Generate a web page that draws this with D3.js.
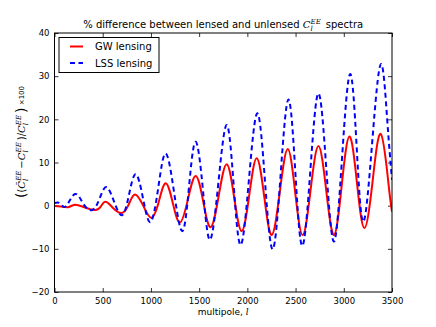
<!DOCTYPE html>
<html>
<head>
<meta charset="utf-8">
<script src="https://cdn.jsdelivr.net/npm/d3@7"></script>
<style>
  body { margin: 0; background: #fff; }
  text { font-family: 'DejaVu Sans', sans-serif; fill: #000; }
  .math { font-family: 'DejaVu Serif', serif; font-style: italic; }
</style>
</head>
<body>
<div id="chart"></div>
<script>
// multipole values and % differences
const gwEll = [0, 100, 150, 213, 300, 420, 480, 531, 610, 700, 770, 835, 920, 1004, 1080, 1153, 1228, 1302,
  1383, 1464, 1542, 1620, 1703, 1786, 1864, 1942, 2020, 2097, 2175, 2253, 2336, 2419, 2496, 2574,
  2655, 2737, 2818, 2899, 2978, 3058, 3136, 3214, 3299, 3384, 3464, 3500]
const gwVal = [-0.1, -0.3, -0.3, 0.2, -0.3, -1.0, -0.2, 0.9, -0.6, -1.7, 0.3, 2.6, 0.0, -2.8, 0.8, 5.2, 0.5, -3.9,
  1.4, 6.9, 1.0, -5.0, 2.3, 9.6, 1.8, -5.9, 2.5, 11.0, 2.1, -6.8, 3.1, 13.1, 3.1, -6.8,
  3.5, 13.8, 3.5, -6.8, 4.6, 16.0, 5.4, -5.2, 5.7, 16.6, 5.0, -1.4]

const lssEll = [0, 60, 120, 213, 300, 392, 465, 538, 620, 703, 772, 842, 917, 995, 1075, 1153, 1240, 1326,
  1395, 1464, 1540, 1613, 1700, 1786, 1858, 1931, 2017, 2104, 2183, 2263, 2345, 2426, 2498, 2570,
  2654, 2737, 2818, 2899, 2982, 3065, 3134, 3203, 3294, 3384, 3450, 3500]
const lssVal = [0.6, 0.5, -0.1, 2.7, 0.4, -1.0, 1.5, 4.3, 0.8, -2.2, 2.5, 7.3, 1.8, -3.8, 4.0, 12.1, 3.1, -5.9,
  4.4, 14.8, 3.5, -7.9, 5.4, 18.7, 4.8, -9.1, 6.2, 21.4, 5.6, -10.1, 7.2, 24.6, 7.6, -9.3,
  8.4, 26.0, 8.8, -8.3, 11.1, 30.5, 13.4, -3.7, 14.5, 32.8, 20.0, 6.0]

const xTicks = [0, 500, 1000, 1500, 2000, 2500, 3000, 3500]
const yTicks = [-20, -10, 0, 10, 20, 30, 40]

const seriesNames = ['GW lensing', 'LSS lensing']

const W = 436
const H = 327
const margin = { top: 33, right: 44, bottom: 35, left: 54.5 }
const width = W - margin.left - margin.right
const height = H - margin.top - margin.bottom

const svg = d3.select('#chart')
  .append('svg')
  .attr('width', W)
  .attr('height', H)

const g = svg.append('g')
  .attr('transform', 'translate(' + margin.left + ',' + margin.top + ')')

const x = d3.scaleLinear().domain([0, 3500]).range([0, width])
const y = d3.scaleLinear().domain([-20, 40]).range([height, 0])

g.append('defs').append('clipPath').attr('id', 'clip')
  .append('rect').attr('width', width).attr('height', height)

const fmt = d => (d < 0 ? '\u2212' + Math.abs(d) : '' + d)

// axes with inward ticks on all four sides
const tickLen = 4
g.append('g')
  .attr('transform', 'translate(0,' + height + ')')
  .call(d3.axisBottom(x).tickValues(xTicks).tickSizeInner(-tickLen).tickSizeOuter(0).tickPadding(6).tickFormat(fmt))
g.append('g')
  .call(d3.axisTop(x).tickValues(xTicks).tickSizeInner(-tickLen).tickSizeOuter(0).tickFormat(''))
g.append('g')
  .call(d3.axisLeft(y).tickValues(yTicks).tickSizeInner(-tickLen).tickSizeOuter(0).tickPadding(5).tickFormat(fmt))
g.append('g')
  .attr('transform', 'translate(' + width + ',0)')
  .call(d3.axisRight(y).tickValues(yTicks).tickSizeInner(-tickLen).tickSizeOuter(0).tickFormat(''))

g.selectAll('.domain').remove()
g.selectAll('.tick line').attr('stroke', '#000').attr('stroke-width', 0.8)
g.selectAll('.tick text').attr('font-size', 8.5).attr('font-family', "'DejaVu Sans', sans-serif").attr('fill', '#000')

const line = d3.line()
  .x(d => x(d[0]))
  .y(d => y(d[1]))
  .curve(d3.curveNatural)

const plot = g.append('g').attr('clip-path', 'url(#clip)')

plot.append('path')
  .datum(gwEll.map((l, i) => [l, gwVal[i]]))
  .attr('d', line)
  .attr('fill', 'none')
  .attr('stroke', '#ff0000')
  .attr('stroke-width', 2)

plot.append('path')
  .datum(lssEll.map((l, i) => [l, lssVal[i]]))
  .attr('d', line)
  .attr('fill', 'none')
  .attr('stroke', '#0000ff')
  .attr('stroke-width', 2)
  .attr('stroke-dasharray', '5,3.5')

g.append('rect')
  .attr('width', width)
  .attr('height', height)
  .attr('fill', 'none')
  .attr('stroke', '#000')
  .attr('stroke-width', 1)

// legend
const legend = g.append('g').attr('transform', 'translate(4.5,4.5)')
legend.append('rect')
  .attr('width', 100)
  .attr('height', 35)
  .attr('fill', '#fff')
  .attr('stroke', '#000')
  .attr('stroke-width', 1)
seriesNames.forEach((name, i) => {
  const ly = 9 + i * 16.5
  legend.append('line')
    .attr('x1', 11).attr('x2', 24)
    .attr('y1', ly).attr('y2', ly)
    .attr('stroke', i === 0 ? '#ff0000' : '#0000ff')
    .attr('stroke-width', 2)
    .attr('stroke-dasharray', i === 0 ? null : '5,3.5')
  legend.append('text')
    .attr('x', 36)
    .attr('y', ly)
    .attr('dy', '0.35em')
    .attr('font-size', 10)
    .text(name)
})

// C with subscript l and superscript EE, stacked like mathtext
function cterm (sel, size, tilde) {
  const s = size * 0.7
  sel.append('tspan').attr('class', 'math').attr('font-size', size).text(tilde ? 'C\u0303' : 'C')
  sel.append('tspan').attr('class', 'math').attr('font-size', s).attr('dy', size * 0.3).text('l')
  sel.append('tspan').attr('class', 'math').attr('font-size', s).attr('dx', -s * 0.3).attr('dy', -size * 0.75).text('EE')
  sel.append('tspan').attr('font-size', size).attr('dy', size * 0.45).text('\u2009')
}

// title
const title = svg.append('text')
  .attr('x', margin.left + width / 2)
  .attr('y', 28)
  .attr('text-anchor', 'middle')
  .attr('font-size', 10)
title.append('tspan').text('% difference between lensed and unlensed ')
cterm(title, 10, false)
title.append('tspan').attr('dx', 3).text('spectra')

// x label
const xl = svg.append('text')
  .attr('x', margin.left + width / 2)
  .attr('y', 315)
  .attr('text-anchor', 'middle')
  .attr('font-size', 9)
xl.append('tspan').text('multipole, ')
xl.append('tspan').attr('class', 'math').text('l')

// y label
const yl = svg.append('text')
  .attr('transform', 'translate(25,142) rotate(-90)')
  .attr('text-anchor', 'middle')
  .attr('font-size', 10)
  .attr('font-family', "'DejaVu Serif', serif")
yl.append('tspan').attr('font-size', 14).attr('dy', 1).text('(')
yl.append('tspan').attr('dy', -1).text('(')
cterm(yl, 10, true)
yl.append('tspan').attr('font-family', "'DejaVu Sans', sans-serif").text('\u2212')
cterm(yl, 10, false)
yl.append('tspan').text(')/')
cterm(yl, 10, false)
yl.append('tspan').attr('font-size', 14).attr('dy', 1).text(')')
yl.append('tspan').attr('font-size', 7).attr('font-family', "'DejaVu Sans', sans-serif").attr('dy', -2).text(' \u00d7100')
</script>
</body>
</html>
